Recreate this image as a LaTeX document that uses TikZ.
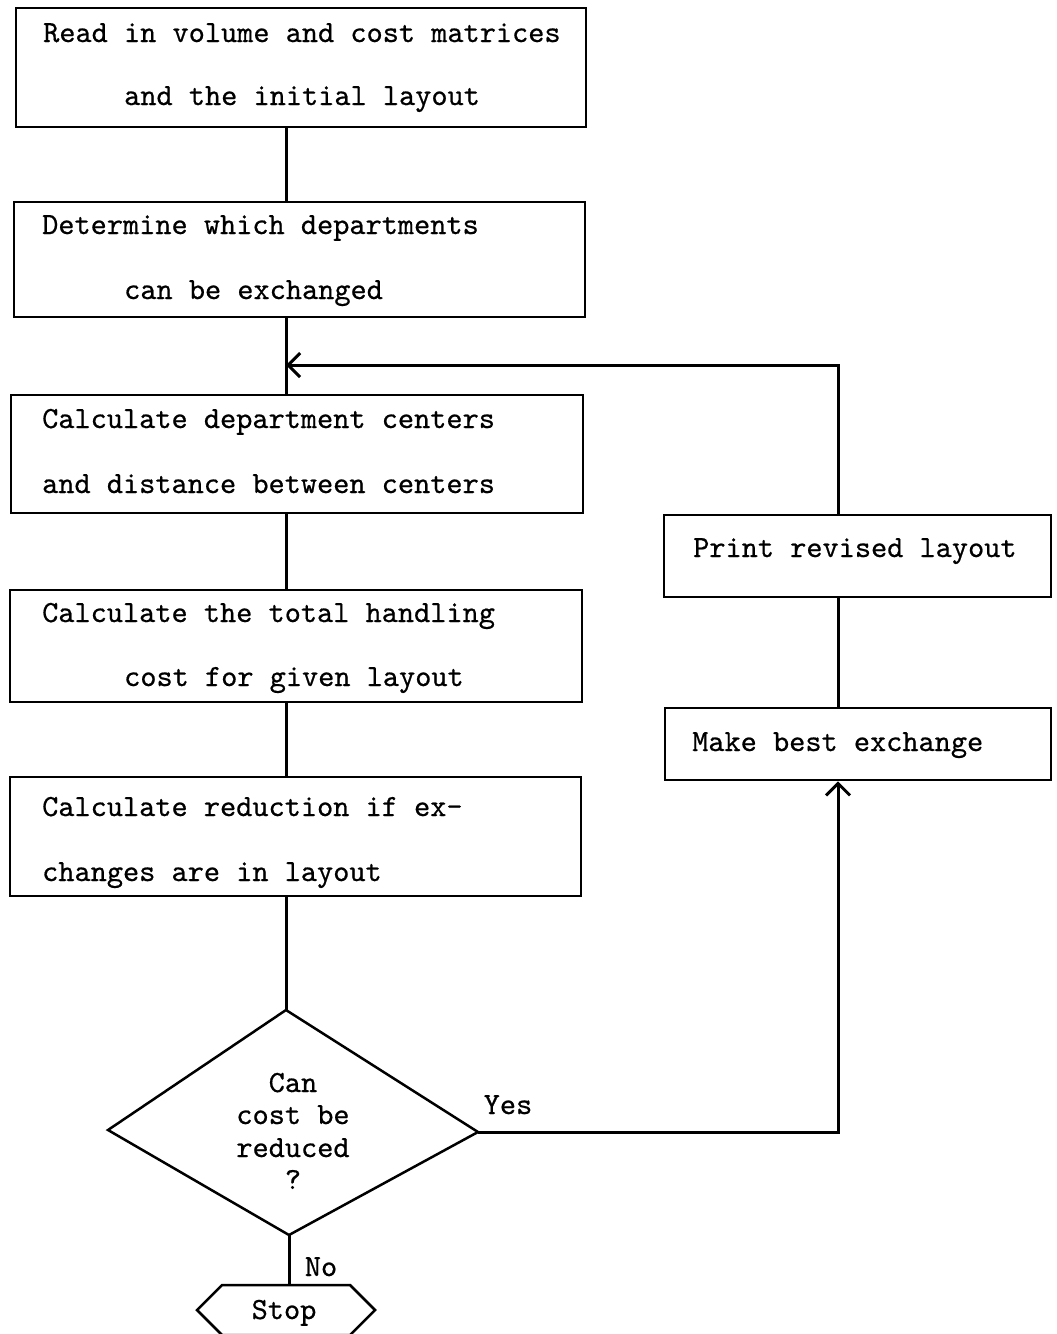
\documentclass[tikz,border=0pt]{standalone}
\usepackage{fontspec}
\newfontfamily\tw{lmmono10-regular.otf}[FakeBold=0.6]
\usetikzlibrary{arrows.meta,shapes.symbols}
\begin{document}
\begin{tikzpicture}[x=1pt,y=-1pt,
  box/.style={draw,line width=2.5pt,inner sep=0pt,rectangle},
  txt/.style={inner sep=0pt,anchor=base west,font=\tw\fontsize{30.8}{32}\selectfont},
  ctr/.style={inner sep=0pt,anchor=base,font=\tw\fontsize{30.8}{32}\selectfont},
  conn/.style={line width=3pt},
  arr/.style={line width=3pt,-{Straight Barb[length=12pt,width=24pt,line width=3pt]}}]
\useasboundingbox (0,0) rectangle (1057,1334);
% boxes
\node[box,minimum width=570pt,minimum height=119pt] (b1) at (301,67.5) {};
\node[box,minimum width=571pt,minimum height=115pt] (b2) at (299.5,259.5) {};
\node[box,minimum width=572pt,minimum height=118pt] (b3) at (297,454) {};
\node[box,minimum width=572pt,minimum height=112pt] (b4) at (296,646) {};
\node[box,minimum width=571pt,minimum height=119pt] (b5) at (295.5,836.5) {};
\node[box,minimum width=387pt,minimum height=82pt] (pr) at (857.5,556) {};
\node[box,minimum width=386pt,minimum height=72pt] (mk) at (858,744) {};
% texts
\node[txt] (t1a) at (43,42) {Read in volume and cost matrices};
\node[txt] (t1b) at (124,105) {and the initial layout};
\node[txt] (t2a) at (42,234) {Determine which departments};
\node[txt] (t2b) at (124,299) {can be exchanged};
\node[txt] (t3a) at (42,428) {Calculate department centers};
\node[txt] (t3b) at (42,493) {and distance between centers};
\node[txt] (t4a) at (42,622) {Calculate the total handling};
\node[txt] (t4b) at (124,686) {cost for given layout};
\node[txt] (t5a) at (42,816) {Calculate reduction if ex-};
\node[txt] (t5b) at (42,881) {changes are in layout};
\node[txt] (tpr) at (693,557) {Print revised layout};
\node[txt] (tmk) at (692,751) {Make best exchange};
% diamond
\coordinate (dT) at (286,1010);
\coordinate (dL) at (108,1130);
\coordinate (dR) at (478,1132);
\coordinate (dB) at (289,1235);
\draw[line width=2.5pt,line join=miter] (dT)--(dR)--(dB)--(dL)--cycle;
\node[ctr] (q1) at (293,1092) {Can};
\node[ctr] (q2) at (293,1124) {cost be};
\node[ctr] (q3) at (293,1157) {reduced};
\node[ctr] (q4) at (293,1189) {?};
\node[ctr] (yes) at (508,1114) {Yes};
\node[ctr] (no) at (321,1276) {No};
% stop
\node[signal,signal to=east and west,signal pointer angle=90,draw,line width=2.5pt,
  minimum width=178pt,minimum height=50pt,inner sep=0pt] (stop) at (286,1310) {};
\node[ctr] (tstop) at (284,1319) {Stop};
% connectors
\coordinate (mx) at (286,0);
\coordinate (lx) at (838,0);
\coordinate (ret) at (286,365);
\draw[conn] (b1.south -| mx) -- (b2.north -| mx);
\draw[conn] (b2.south -| mx) -- (b3.north -| mx);
\draw[conn] (b3.south -| mx) -- (b4.north -| mx);
\draw[conn] (b4.south -| mx) -- (b5.north -| mx);
\draw[conn] (b5.south -| mx) -- (dT);
\draw[conn] (dB) -- (stop.north -| dB);
\draw[arr] (dR) -| (mk.south -| lx);
\draw[conn] (mk.north -| lx) -- (pr.south -| lx);
\draw[arr] (pr.north -| lx) |- (ret);
\end{tikzpicture}
\end{document}
